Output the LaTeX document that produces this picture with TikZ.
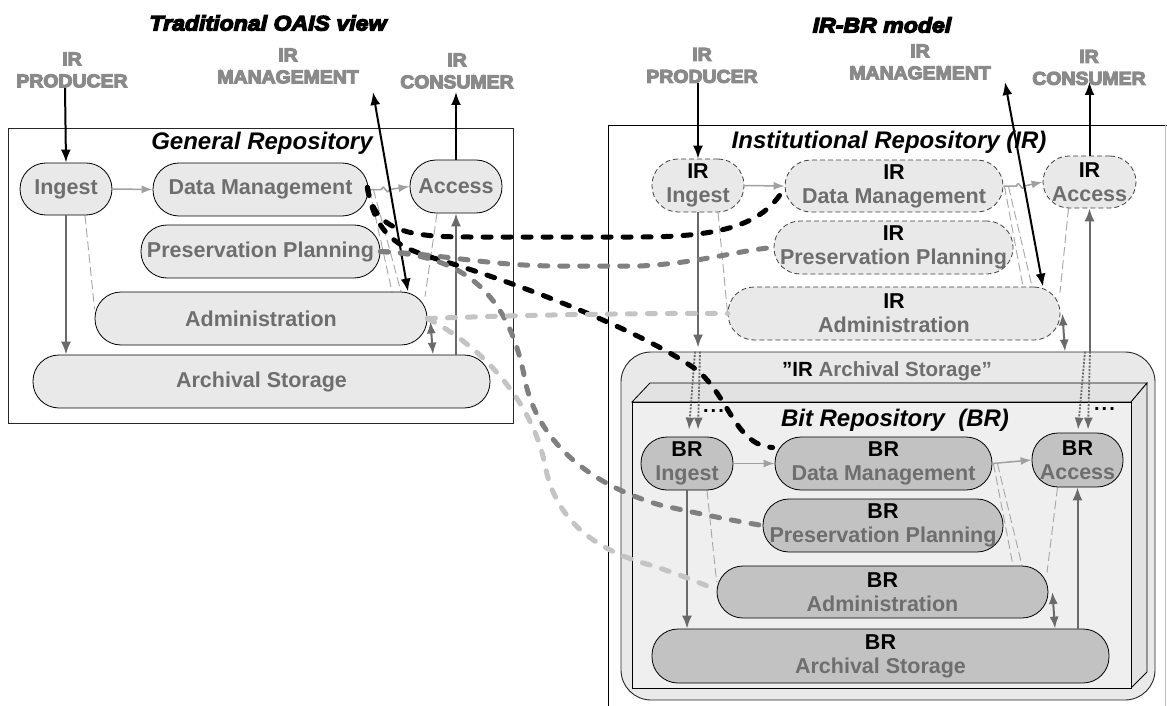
\documentclass[tikz,border=0pt]{standalone}
\usepackage{fontspec}
\setmainfont{Liberation Sans}
\usetikzlibrary{arrows.meta,calc}

\definecolor{nodefill}{HTML}{E9E9E9}
\definecolor{brfill}{HTML}{C2C2C2}
\definecolor{brface}{HTML}{EFEFEF}
\definecolor{brside}{HTML}{E2E2E2}
\definecolor{textgray}{HTML}{6E6E6E}
\definecolor{labelgray}{HTML}{8A8A8A}
\definecolor{arrowdark}{HTML}{6A6A6A}
\definecolor{arrowlight}{HTML}{A0A0A0}
\definecolor{dashthin}{HTML}{A6A6A6}
\definecolor{linkmid}{HTML}{808080}
\definecolor{linkpale}{HTML}{C4C4C4}

% heavy, slightly widened faces for the actor labels and the view titles
\font\labelheavy="Liberation Sans/B:embolden=6;extend=1.05" at 18.5pt
\font\viewheavy="Liberation Sans/BI:embolden=6;extend=1.1" at 21pt

\newcommand\boxfont{\bfseries\fontsize{21.5}{24}\selectfont}
\newcommand\labelfont{\fontsize{18.5}{22}\selectfont\labelheavy}
\newcommand\viewfont{\fontsize{21}{24}\selectfont\viewheavy}
\newcommand\repofont{\bfseries\itshape\fontsize{24}{28}\selectfont}
\newcommand\tagk[1]{{\color{black}#1}}

\pgfdeclarelayer{back}
\pgfdeclarelayer{mid}
\pgfsetlayers{back,mid,main}

\tikzset{
  pill/.style={draw=black, line width=0.8pt, rounded corners=26pt, inner sep=0pt,
    align=center, font=\boxfont, text=textgray, fill=nodefill},
  irpill/.style={pill, draw=black!75, dash pattern=on 5pt off 3pt},
  brpill/.style={pill, fill=brfill},
  extlabel/.style={align=center, text=labelgray, font=\labelfont, inner sep=1pt},
  viewtitle/.style={font=\viewfont, text=black, inner sep=0pt},
  repotitle/.style={font=\repofont, text=black, inner sep=0pt},
  blackarrow/.style={draw=black, line width=2pt, -{Latex[length=13pt,width=10pt]}},
  blackboth/.style={draw=black, line width=2pt, {Latex[length=13pt,width=10pt]}-{Latex[length=13pt,width=10pt]}},
  darkarrow/.style={draw=arrowdark, line width=2pt, -{Latex[length=13pt,width=10pt]}},
  darkboth/.style={draw=arrowdark, line width=2pt, {Latex[length=12pt,width=9pt]}-{Latex[length=12pt,width=9pt]}},
  lightarrow/.style={draw=arrowlight, line width=1.5pt, -{Latex[length=11pt,width=8pt]}},
  thindash/.style={draw=dashthin, line width=0.9pt, dash pattern=on 9pt off 4pt},
  dotarrow/.style={draw=arrowdark, line width=1.8pt, dash pattern=on 2pt off 1.5pt, -{Latex[length=12pt,width=9pt]}},
  linkblack/.style={draw=black, line width=5pt, line cap=round, dash pattern=on 8pt off 12pt},
  linkgray/.style={draw=linkmid, line width=5pt, line cap=round, dash pattern=on 8pt off 12pt},
  linkpale/.style={draw=linkpale, line width=5pt, line cap=round, dash pattern=on 8pt off 12pt},
}

\begin{document}
\begin{tikzpicture}[x=1pt,y=-1pt]
\useasboundingbox (0,0) rectangle (1167,706);

% ---------- containers ----------
\begin{pgfonlayer}{back}
  \fill[white] (0,0) rectangle (1167,706);
  % General Repository frame
  \node[draw=black!85, line width=0.8pt, minimum width=505pt, minimum height=295pt, inner sep=0pt]
    (gRepo) at (260.5,275.5) {};
  % Institutional Repository frame (open at the bottom)
  \draw[black, line width=0.8pt] (608,706) -- (608,125) -- (1167,125);
  \draw[black!25, line width=0.8pt] (1165,125) -- (1165,706);
  % "IR Archival Storage" container
  \node[draw=black!85, line width=0.9pt, fill=nodefill, rounded corners=30pt,
    minimum width=534pt, minimum height=348pt, inner sep=0pt] (iAS) at (888,526) {};
  % Bit Repository as a 3D box
  \filldraw[fill=brside, draw=black, line width=0.8pt]
    (632,402) -- (650,383) -- (1147,383) -- (1131,402) -- cycle;
  \filldraw[fill=brside, draw=black, line width=0.8pt]
    (1131,402) -- (1147,383) -- (1147,672) -- (1131,688) -- cycle;
  \filldraw[fill=brface, draw=black, line width=0.8pt] (632,402) rectangle (1131,688);
\end{pgfonlayer}

% ---------- titles and external actors ----------
\node[viewtitle] (gView) at (268,23) {Traditional OAIS view};
\node[viewtitle] (iView) at (882,25) {IR-BR model};

\node[extlabel] (gProd) at (72,70) {IR\\PRODUCER};
\node[extlabel] (gMgmt) at (288,66) {IR\\MANAGEMENT};
\node[extlabel] (gCons) at (457,71) {IR\\CONSUMER};
\node[extlabel] (iProd) at (702,65.5) {IR\\PRODUCER};
\node[extlabel] (iMgmt) at (920,62) {IR\\MANAGEMENT};
\node[extlabel] (iCons) at (1089,67.5) {IR\\CONSUMER};

\coordinate (gProdTail) at (65,88);
\coordinate (gMgmtTip) at (373,92);
\coordinate (gConsTip) at (456,92);
\coordinate (iProdTail) at (698,83);
\coordinate (iMgmtTip) at (1005,82);
\coordinate (iConsTip) at (1089.5,82);

\node[repotitle] (gRepoTitle) at (262,143) {General Repository};
\node[repotitle] (iRepoTitle) at (889,142) {Institutional Repository (IR)};
\node[font=\bfseries\fontsize{20.5}{24}\selectfont, text=textgray, inner sep=0pt]
  (iASTitle) at (887,371) {\tagk{”IR} Archival Storage”};
\node[repotitle] (bTitle) at (895,420) {Bit Repository\ \ (BR)};

% ---------- general repository functions ----------
\node[pill, minimum width=92pt,  minimum height=52pt] (gIngest) at (66,189) {Ingest};
\node[pill, minimum width=215pt, minimum height=53pt] (gDM)     at (260.5,189.5) {Data Management};
\node[pill, minimum width=92pt,  minimum height=53pt] (gAccess) at (456,186.5) {Access};
\node[pill, minimum width=239pt, minimum height=53pt] (gPP)     at (260.5,251.5) {Preservation Planning};
\node[pill, minimum width=332pt, minimum height=53pt] (gAdmin)  at (261,318.5) {Administration};
\node[pill, minimum width=457pt, minimum height=53pt] (gAS)     at (261.5,381.5) {Archival Storage};

% ---------- institutional repository functions ----------
\node[irpill, minimum width=92pt,  minimum height=53pt] (iIngest) at (698,185.5) {\tagk{IR}\\Ingest};
\node[irpill, minimum width=218pt, minimum height=52pt] (iDM)     at (894,186) {\tagk{IR}\\Data Management};
\node[irpill, minimum width=93pt,  minimum height=52pt] (iAccess) at (1089.5,182) {\tagk{IR}\\Access};
\node[irpill, minimum width=239pt, minimum height=53pt] (iPP)     at (893.5,247.5) {\tagk{IR}\\Preservation Planning};
\node[irpill, minimum width=332pt, minimum height=53pt] (iAdmin)  at (894,313.5) {\tagk{IR}\\Administration};

% ---------- bit repository functions ----------
\node[brpill, minimum width=92pt,  minimum height=53pt] (bIngest) at (687,463.5) {\tagk{BR}\\Ingest};
\node[brpill, minimum width=217pt, minimum height=53pt] (bDM)     at (883.5,463.5) {\tagk{BR}\\Data Management};
\node[brpill, minimum width=91pt,  minimum height=54pt] (bAccess) at (1077.5,460) {\tagk{BR}\\Access};
\node[brpill, minimum width=240pt, minimum height=53pt] (bPP)     at (883,525.5) {\tagk{BR}\\Preservation Planning};
\node[brpill, minimum width=331pt, minimum height=52pt] (bAdmin)  at (882.5,592) {\tagk{BR}\\Administration};
\node[brpill, minimum width=457pt, minimum height=54pt] (bAS)     at (880.5,656) {\tagk{BR}\\Archival Storage};

\node[font=\bfseries\fontsize{20}{22}\selectfont, inner sep=0pt] (bDotsL) at (714,411) {\kern-1pt.\kern2pt.\kern2pt.};
\node[font=\bfseries\fontsize{20}{22}\selectfont, inner sep=0pt] (bDotsR) at (1105,409) {\kern-1pt.\kern2pt.\kern2pt.};

% ---------- thin dashed control links (behind the functions) ----------
\begin{pgfonlayer}{mid}
  \draw[thindash] ($(gIngest.south)+(19,0)$) -- ($(gAdmin.west)+(0,-9)$);
  \draw[thindash] ($(gDM.east)+(1,0)$) -- ($(gAdmin.north)+(131,0)$);
  \draw[thindash] ($(gDM.east)+(5,0)$) -- ($(gAdmin.north)+(140,0)$);
  \draw[thindash] ($(gAccess.south)+(-19,0)$) -- ($(gAdmin.north)+(164,5)$);

  \draw[thindash] ($(iIngest.south)+(20,0)$) -- (iAdmin.west);
  \draw[thindash] ($(iDM.east)+(1,0)$) -- ($(iAdmin.north)+(129,0)$);
  \draw[thindash] ($(iDM.east)+(5,0)$) -- ($(iAdmin.north)+(138,0)$);
  \draw[thindash] ($(iAccess.south)+(-21,0)$) -- ($(iAdmin.north)+(166,6)$);

  \draw[thindash] ($(bIngest.south)+(20,0)$) -- ($(bAdmin.west)+(0,-10)$);
  \draw[thindash] ($(bDM.east)+(1,0)$) -- ($(bAdmin.north)+(130.5,0)$);
  \draw[thindash] ($(bDM.east)+(5,0)$) -- ($(bAdmin.north)+(139.5,0)$);
  \draw[thindash] ($(bAccess.south)+(-20,0)$) -- ($(bAdmin.north)+(164.5,7)$);
\end{pgfonlayer}

% ---------- data flows: general repository ----------
\draw[lightarrow] (gIngest.east) -- (gDM.west);
\draw[lightarrow] (gDM.east) -- ++(13,0) .. controls +(3,-8) and +(-3,8) .. ++(8,0) -- (gAccess.west);
\draw[darkarrow] (gIngest.south) -- (gIngest.south |- gAS.north);
\draw[darkarrow] (gAccess.south |- gAS.north) -- (gAccess.south);
\draw[darkboth] ($(gAdmin.east)+(3,3)$) -- ($(gAS.north)+(171.5,0)$);
\draw[blackarrow] (gProdTail) -- (gIngest.north);
\draw[blackarrow] (gAccess.north) -- (gConsTip);
\draw[blackboth] (gMgmtTip) -- ($(gAdmin.north)+(147,0)$);

% ---------- data flows: institutional repository ----------
\draw[lightarrow] (iIngest.east) -- (iDM.west);
\draw[lightarrow] (iDM.east) -- ++(13,0) .. controls +(3,-8) and +(-3,8) .. ++(8,0) -- (iAccess.west);
\draw[darkarrow] (iIngest.south) -- ($(iIngest.south |- iAS.north)+(0,-4)$);
\draw[darkarrow] (iAccess.south |- iAS.north) -- (iAccess.south);
\draw[darkboth] ($(iAdmin.east)+(2,0)$) -- ($(iAS.north)+(177,0)$);
\draw[blackarrow] (iProdTail) -- (iIngest.north);
\draw[blackarrow] (iAccess.north) -- (iConsTip);
\draw[blackboth] (iMgmtTip) -- ($(iAdmin.north)+(149,0)$);

% IR storage delegated to the bit repository
\draw[dotarrow] ($(iAS.north)+(-193,0)$) -- ($(bIngest.north)+(2,-7)$);
\draw[dotarrow] ($(iAS.north)+(-188,0)$) -- ($(bIngest.north)+(11,-7)$);
\draw[dotarrow] ($(iAS.north)+(197,0)$) -- ($(bAccess.north)+(0.5,-3)$);
\draw[dotarrow] ($(iAS.north)+(202,0)$) -- ($(bAccess.north)+(10.5,-3)$);

% ---------- data flows: bit repository ----------
\draw[lightarrow] (bIngest.east) -- (bDM.west);
\draw[lightarrow] (bDM.east) -- (bAccess.west);
\draw[darkarrow] (bIngest.south) -- (bIngest.south |- bAS.north);
\draw[darkarrow] (bAccess.south |- bAS.north) -- (bAccess.south);
\draw[darkboth] ($(bAdmin.east)+(4,0)$) -- ($(bAS.north)+(174.5,0)$);

% ---------- correspondence between the two views ----------
\draw[linkblack] ($(gDM.east)+(-1,-2)$) .. controls (374,232) and (410,237) .. (470,237)
  -- (640,237) .. controls (722,237) and (760,224) .. ($(iDM.west)+(-4,8)$);
\draw[linkblack] ($(gDM.east)+(-1,-2)$) .. controls (376,238) and (400,248) .. (440,260)
  .. controls (520,284) and (640,330) .. (697,370)
  .. controls (730,398) and (735,445) .. ($(bDM.west)+(-2,-16)$);
\draw[linkgray] (gPP.east) .. controls (450,255) and (490,266) .. (560,266)
  -- (640,266) .. controls (700,263) and (740,250) .. (iPP.west);
\draw[linkgray] (gPP.east) .. controls (470,255) and (510,300) .. (525,380)
  .. controls (535,430) and (575,480) .. (660,505)
  .. controls (700,514) and (735,521) .. (bPP.west);
\draw[linkpale] (gAdmin.east) .. controls (520,315) and (640,313) .. (iAdmin.west);
\draw[linkpale] (gAdmin.east) .. controls (480,345) and (532,400) .. (545,465)
  .. controls (555,520) and (595,548) .. (640,562)
  .. controls (680,574) and (700,583) .. ($(bAdmin.west)+(0,-2)$);
\end{tikzpicture}
\end{document}
